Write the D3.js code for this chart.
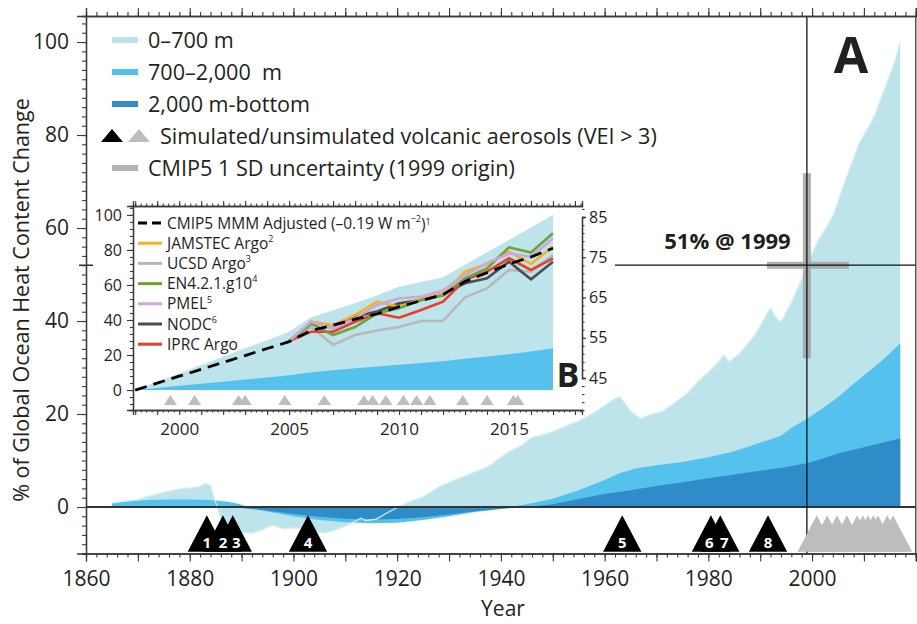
<!DOCTYPE html>
<html><head><meta charset="utf-8">
<script src="https://cdn.jsdelivr.net/npm/d3@7"></script>
<style>
body{margin:0;background:#fff}
svg{display:block}
text{font-family:"Open Sans","Noto Sans",sans-serif;fill:#231f20}
</style>
</head><body>
<svg id="c" width="917" height="624"></svg>
<script>
// ---------------- DATA (main panel A) ----------------
const totalYears  = [1865,1867,1870,1872,1875,1878,1880,1882,1883,1884,1885,1886,1888,1890,1892,1894,1896,1898,1900,1902,1904,1906,1908,1910,1912,1913,1914,1916,1918,1920,1922,1925,1928,1931,1934,1936,1938,1941,1944,1946,1948,1950,1952,1955,1958,1960,1962,1963,1964,1965,1967,1969,1971,1973,1976,1978,1981,1983,1984,1986,1989,1991,1992,1993,1994,1996,1998,1999,2001,2004,2006,2007,2009,2012,2014,2016,2017];
const totalValues = [0.9,1.2,1.6,2.3,3.2,3.9,4.1,4.4,5.1,4.6,1.0,-2.5,-4.5,-5.4,-5.6,-4.9,-3.9,-4.7,-4.5,-4.6,-5.3,-5.6,-5.0,-4.1,-3.0,-2.4,-2.9,-2.6,-1.3,-0.1,1.0,2.2,4.3,5.8,7.1,8.0,9.0,11.5,13.3,15.0,15.5,16.2,17.2,18.5,20.3,21.8,23.4,23.7,22.2,20.6,19.0,20.0,20.5,22.0,24.5,27.0,30.0,32.7,31.2,33.0,37.0,41.0,42.8,40.8,39.8,44.0,49.0,52.0,57.0,62.5,69.0,72.0,78.0,84.0,90.0,96.0,100.0];
const midYears  = [1865,1868,1872,1876,1880,1884,1887,1889,1891,1893,1896,1900,1905,1910,1915,1920,1925,1930,1935,1938,1940,1943,1945,1950,1955,1960,1963,1966,1970,1975,1980,1985,1990,1994,1996,1999,2002,2005,2008,2011,2014,2017];
const midValues = [0.8,1.2,1.5,1.6,1.6,1.5,1.2,0.8,0.1,-0.5,-1.2,-2.0,-2.8,-3.3,-3.5,-3.4,-2.8,-2.0,-1.1,-0.7,-0.4,0.2,0.6,1.8,3.6,5.8,7.3,8.3,9.0,9.7,10.7,12.0,13.8,15.3,17.0,19.0,21.2,23.6,26.5,29.2,32.0,35.2];
const deepYears  = [1865,1875,1885,1890,1895,1900,1905,1910,1915,1920,1925,1930,1935,1940,1945,1950,1955,1960,1965,1970,1975,1980,1985,1990,1995,1999,2002,2005,2008,2011,2014,2017];
const deepValues = [0.1,0.1,0.0,-0.2,-0.8,-1.5,-2.1,-2.5,-2.7,-2.6,-2.2,-1.6,-0.9,-0.4,0.0,0.6,1.7,2.8,3.6,4.5,5.3,6.2,7.0,7.8,8.6,9.4,10.4,11.5,12.3,13.1,13.9,14.8];

const volcanoYears  = [1883.3,1886.4,1888.3,1902.8,1963.4,1980.5,1982.3,1991.5];
const volcanoLabels = ["1","2","3","4","5","6","7","8"];
const grayVolcanoYearsMain = [2000.9,2002.9,2004.8,2006.7,2008.7,2009.8,2010.8,2011.8,2012.7,2014.5,2015.6];

const xTickLabels = [1860,1880,1900,1920,1940,1960,1980,2000];
const yTickLabels = [0,20,40,60,80,100];
const originYear = 1999, originPct = 52;
const uncYear = [1991.3, 2007.1];   // horizontal 1 SD bar extent
const uncPct  = [32, 71.8];         // vertical 1 SD bar extent

const legendLabels = ["0–700 m","700–2,000  m","2,000 m-bottom","Simulated/unsimulated volcanic aerosols (VEI > 3)","CMIP5 1 SD uncertainty (1999 origin)"];

// ---------------- DATA (inset panel B) ----------------
const insetYears = [1998,1999,2000,2001,2002,2003,2004,2005,2006,2007,2008,2009,2010,2011,2012,2013,2014,2015,2016,2017];
const insetTotal = [0,4.8,9.5,14.3,19,23.8,28.5,33.3,41.5,45.5,49.5,54,59,61.7,64.4,71.5,78.7,85.7,92.8,100];
const insetMid   = [0,1.2,2.4,3.6,4.8,6,7.2,8.4,10.2,11.3,12.4,13.5,14.5,15.5,16.5,17.8,19.1,20.5,22,23.8];
const cmipValues = [0,3.9,7.9,11.8,15.8,19.7,23.7,27.6,34,37,40.5,43.5,47.6,51,54.5,62,67,72,76,81];
const obsYears   = [2005,2006,2007,2008,2009,2010,2011,2012,2013,2014,2015,2016,2017];
const jamstec = [28,39,37,43,50.5,47.6,52,55,67.6,72,79,72,82];
const ucsd    = [28,36,25.7,31.4,34,36,39.4,39.4,53,58,68.6,67.6,77];
const en4     = [28,38,31.4,36,43.8,46.7,51.4,54,63.8,69.5,81.5,78.5,89.5];
const pmel    = [28,39,35,41,48.6,52.4,53.3,57,65.7,72.4,78,76,86.7];
const nodc    = [28,38,37,42,44.8,49.5,51.4,55,61,63.8,73.3,63.2,73.3];
const iprc    = [28,33.3,33.3,39,43.8,41.3,45.7,50.5,62.9,67.6,75.2,68.6,75.2];
const insetVolcanoYears = [1999.6,2000.7,2002.7,2003.0,2004.8,2006.6,2008.4,2008.8,2009.4,2010.2,2010.8,2011.4,2012.9,2014.0,2015.2,2015.4];
const insetXTicks = [2000,2005,2010,2015];
const insetYTicks = [0,20,40,60,80,100];
const insetRightTicks = [45,55,65,75,85];

// ---------------- STYLE ----------------
const C_LIGHT="#bde3eb", C_MID="#55c1ed", C_DEEP="#2f8cc9", C_GRAY="#bdbdbd", AX="#3a3a3a";

const svg = d3.select("#c");
const x = d3.scaleLinear().domain([1860, 2020]).range([86, 915.8]);
const y = d3.scaleLinear().domain([-10, 105.6]).range([553.5, 16]);
const zip = (a,b)=>a.map((v,i)=>[v,b[i]]);

const area = d3.area().x(d=>x(d[0])).y0(y(0)).y1(d=>y(d[1]));
const line = d3.line().x(d=>x(d[0])).y(d=>y(d[1]));
const main = svg.append("g");
main.append("path").attr("d",area(zip(totalYears,totalValues))).attr("fill",C_LIGHT);
main.append("path").attr("d",area(zip(midYears,midValues))).attr("fill",C_MID);
main.append("path").attr("d",area(zip(deepYears,deepValues))).attr("fill",C_DEEP);
main.append("path").attr("d",line(zip(totalYears,totalValues))).attr("fill","none").attr("stroke","#d6eff5").attr("stroke-width",1.3);
// zero line
main.append("line").attr("x1",x(1860)).attr("x2",x(2020)).attr("y1",y(0)).attr("y2",y(0)).attr("stroke","#333").attr("stroke-width",2);

// uncertainty cross
main.append("line").attr("x1",x(originYear)).attr("x2",x(originYear)).attr("y1",y(uncPct[0])).attr("y2",y(uncPct[1])).attr("stroke","#a3a3a3").attr("stroke-width",8).attr("opacity",0.85);
main.append("line").attr("x1",x(uncYear[0])).attr("x2",x(uncYear[1])).attr("y1",y(originPct)).attr("y2",y(originPct)).attr("stroke","#a3a3a3").attr("stroke-width",7).attr("opacity",0.85);
// 1999 cross-hair lines
main.append("line").attr("x1",x(originYear)).attr("x2",x(originYear)).attr("y1",y(105.6)).attr("y2",y(-10)).attr("stroke","#111").attr("stroke-width",1.3);
main.append("line").attr("x1",x(1962)).attr("x2",x(2020)).attr("y1",y(originPct)).attr("y2",y(originPct)).attr("stroke","#111").attr("stroke-width",1.3);
main.append("line").attr("x1",x(1860)-7).attr("x2",x(1860)+7).attr("y1",y(originPct)).attr("y2",y(originPct)).attr("stroke","#111").attr("stroke-width",1.3);
main.append("text").attr("x",x(1998)-11).attr("y",y(originPct)-16).attr("text-anchor","end").attr("font-weight","bold").attr("font-size",22).text("51% @ 1999");

// volcano triangles
const triBase=-9.6, triTop=-1.8, triHalf=3.7;
const tri = yr => `M${x(yr-triHalf)},${y(triBase)}L${x(yr)},${y(triTop)}L${x(yr+triHalf)},${y(triBase)}Z`;
main.selectAll(".gv").data(grayVolcanoYearsMain).enter().append("path").attr("d",d=>tri(d)).attr("fill",C_GRAY);
main.selectAll(".bv").data(volcanoYears).enter().append("path").attr("d",d=>tri(d)).attr("fill","#000");
// label positions: spread labels of close-together eruptions so they do not overlap
const labelX = volcanoYears.map(d=>x(d));
for(let i=1;i<labelX.length;i++){ if(labelX[i]-labelX[i-1]<15){ const shift=(15-(labelX[i]-labelX[i-1])); labelX[i]+=shift*0.7; if(i===1||labelX[i-1]-(labelX[i-2]||-1e9)>=30) labelX[i-1]-=shift*0.3; } }
main.selectAll(".bl").data(volcanoYears).enter().append("text").attr("x",(d,i)=>labelX[i]).attr("y",y(triBase)-4)
  .attr("text-anchor","middle").attr("font-size",15).attr("font-weight","bold").style("fill","#fff")
  .text((d,i)=>volcanoLabels[i]);

// axes main
function styleAxis(g){ g.select(".domain").attr("stroke",AX).attr("stroke-width",1.3); g.selectAll(".tick line").attr("stroke",AX).attr("stroke-width",1.1); }
const bottomY=y(-10), topY=y(105.6);
svg.append("g").attr("transform",`translate(0,${bottomY})`).call(d3.axisBottom(x).tickValues(d3.range(1860,2021,2)).tickSize(4).tickFormat("")).call(styleAxis);
svg.append("g").attr("transform",`translate(0,${bottomY})`).call(d3.axisBottom(x).tickValues(d3.range(1860,2021,10)).tickSize(8).tickPadding(10)
  .tickFormat(d=>xTickLabels.includes(d)?d:"")).call(styleAxis).call(g=>g.selectAll("text").attr("font-size",21).style("font-family","Open Sans"));
svg.append("g").attr("transform",`translate(0,${topY})`).call(d3.axisTop(x).tickValues(d3.range(1860,2021,2)).tickSize(4).tickFormat("")).call(styleAxis);
svg.append("g").attr("transform",`translate(0,${topY})`).call(d3.axisTop(x).tickValues(d3.range(1860,2021,10)).tickSize(8).tickFormat("")).call(styleAxis);
svg.append("g").attr("transform",`translate(${x(1860)},0)`).call(d3.axisLeft(y).tickValues(d3.range(-10,105,2)).tickSize(4).tickFormat("")).call(styleAxis);
svg.append("g").attr("transform",`translate(${x(1860)},0)`).call(d3.axisLeft(y).tickValues(yTickLabels).tickSize(9).tickPadding(8))
  .call(styleAxis).call(g=>g.selectAll("text").attr("font-size",21).style("font-family","Open Sans"));
svg.append("line").attr("x1",x(2020)).attr("x2",x(2020)).attr("y1",topY).attr("y2",bottomY).attr("stroke",AX).attr("stroke-width",1.3);

svg.append("text").attr("x",503).attr("y",616).attr("text-anchor","middle").attr("font-size",21).text("Year");
svg.append("text").attr("transform","translate(29,300) rotate(-90)").attr("text-anchor","middle").attr("font-size",21.5).text("% of Global Ocean Heat Content Change");
svg.append("text").attr("x",851).attr("y",73).attr("text-anchor","middle").attr("font-size",50).attr("font-weight","bold").text("A");

// legend main
const lg = svg.append("g");
const rowY = i => 40 + i*32;
[C_LIGHT,C_MID,C_DEEP].forEach((c,i)=>lg.append("rect").attr("x",112).attr("y",rowY(i)-3).attr("width",26).attr("height",6).attr("fill",c));
lg.append("path").attr("d",`M101,${rowY(3)+6}L112,${rowY(3)-7}L123,${rowY(3)+6}Z`).attr("fill","#000");
lg.append("path").attr("d",`M128,${rowY(3)+6}L139,${rowY(3)-7}L150,${rowY(3)+6}Z`).attr("fill",C_GRAY);
lg.append("rect").attr("x",112).attr("y",rowY(4)-3).attr("width",26).attr("height",6).attr("fill","#b3b3b3");
legendLabels.forEach((t,i)=>lg.append("text").attr("x",i===3?160:148).attr("y",rowY(i)).attr("dy","0.36em").attr("font-size",21.6).style("white-space","pre").text(t));

// ---------------- INSET ----------------
const xi = d3.scaleLinear().domain([1997.9, 2018.32]).range([133, 582]);
const yi = d3.scaleLinear().domain([-11.4, 105.1]).range([410, 206]);
const yr = d3.scaleLinear().domain([45, 85]).range([378, 217]);
const ins = svg.append("g");
const iarea = d3.area().x(d=>xi(d[0])).y0(yi(0)).y1(d=>yi(d[1]));
const iline = d3.line().x(d=>xi(d[0])).y(d=>yi(d[1]));
ins.append("path").attr("d",iarea(zip(insetYears,insetTotal))).attr("fill",C_LIGHT);
ins.append("path").attr("d",iarea(zip(insetYears,insetMid))).attr("fill",C_MID);
const series = [[ucsd,"#b8b8b8"],[nodc,"#4d4d4d"],[iprc,"#ee3b2b"],[jamstec,"#f6b221"],[en4,"#6ba534"],[pmel,"#cfa6dc"]];
series.forEach(([v,c])=>ins.append("path").attr("d",iline(zip(obsYears,v))).attr("fill","none").attr("stroke",c).attr("stroke-width",2.6));
ins.append("path").attr("d",iline(zip(insetYears,cmipValues))).attr("fill","none").attr("stroke","#000").attr("stroke-width",2.8).attr("stroke-dasharray","12,7");
const itri = yrv => `M${xi(yrv-0.3)},${yi(-8.6)}L${xi(yrv)},${yi(-2.9)}L${xi(yrv+0.3)},${yi(-8.6)}Z`;
ins.selectAll(".iv").data(insetVolcanoYears).enter().append("path").attr("d",d=>itri(d)).attr("fill",C_GRAY);

const iB=yi(-11.4), iT=yi(105.1), iL=xi(1997.9), iR=xi(2018.32);
ins.append("g").attr("transform",`translate(0,${iB})`).call(d3.axisBottom(xi).tickValues(d3.range(1998,2018.3,0.25)).tickSize(2.5).tickFormat("")).call(styleAxis);
ins.append("g").attr("transform",`translate(0,${iB})`).call(d3.axisBottom(xi).tickValues(d3.range(1998,2019,1)).tickSize(5).tickPadding(8).tickFormat(d=>insetXTicks.includes(d)?d:""))
  .call(styleAxis).call(g=>g.selectAll("text").attr("font-size",17).style("font-family","Open Sans"));
ins.append("g").attr("transform",`translate(0,${iT})`).call(d3.axisTop(xi).tickValues(d3.range(1998,2018.3,0.25)).tickSize(2.5).tickFormat("")).call(styleAxis);
ins.append("g").attr("transform",`translate(0,${iT})`).call(d3.axisTop(xi).tickValues(d3.range(1998,2019,1)).tickSize(5).tickFormat("")).call(styleAxis);
ins.append("g").attr("transform",`translate(${iL},0)`).call(d3.axisLeft(yi).tickValues(d3.range(-8,105,4)).tickSize(3).tickFormat("")).call(styleAxis);
ins.append("g").attr("transform",`translate(${iL},0)`).call(d3.axisLeft(yi).tickValues(insetYTicks).tickSize(6).tickPadding(5))
  .call(styleAxis).call(g=>g.selectAll("text").attr("font-size",16).style("font-family","Open Sans"));
ins.append("g").attr("transform",`translate(${iR},0)`).call(d3.axisRight(yr).tickValues(d3.range(37,88,2)).tickSize(2.5).tickFormat("")).call(styleAxis);
ins.append("g").attr("transform",`translate(${iR},0)`).call(d3.axisRight(yr).tickValues(insetRightTicks).tickSize(4).tickPadding(3))
  .call(styleAxis).call(g=>g.selectAll("text").attr("font-size",16).style("font-family","Open Sans"));
ins.append("text").attr("x",xi(2017)+15).attr("y",387).attr("text-anchor","middle").attr("font-size",34).attr("font-weight","bold").text("B");

// inset legend
const il = ins.append("g");
const iRow = i => 223 + i*20.2;
const iLeg = [
  {c:"#000",dash:"9,5",t:"CMIP5 MMM Adjusted (–0.19 W m",sup:"−2",after:")",sup2:"1"},
  {c:"#f6b221",t:"JAMSTEC Argo",sup:"2"},
  {c:"#b8b8b8",t:"UCSD Argo",sup:"3"},
  {c:"#6ba534",t:"EN4.2.1.g10",sup:"4"},
  {c:"#cfa6dc",t:"PMEL",sup:"5"},
  {c:"#4d4d4d",t:"NODC",sup:"6"},
  {c:"#ee3b2b",t:"IPRC Argo"}
];
iLeg.forEach((d,i)=>{
  il.append("line").attr("x1",138).attr("x2",162).attr("y1",iRow(i)).attr("y2",iRow(i)).attr("stroke",d.c).attr("stroke-width",3).attr("stroke-dasharray",d.dash||null);
  const t = il.append("text").attr("x",167).attr("y",iRow(i)).attr("dy","0.36em").attr("font-size",15.5);
  t.append("tspan").text(d.t);
  if(d.sup) t.append("tspan").attr("font-size",9).attr("dy","-0.75em").text(d.sup);
  if(d.after){ t.append("tspan").attr("dy","0.5em").text(d.after); }
  if(d.sup2) t.append("tspan").attr("font-size",9).attr("dy","-0.5em").text(d.sup2);
});
</script>
</body></html>
